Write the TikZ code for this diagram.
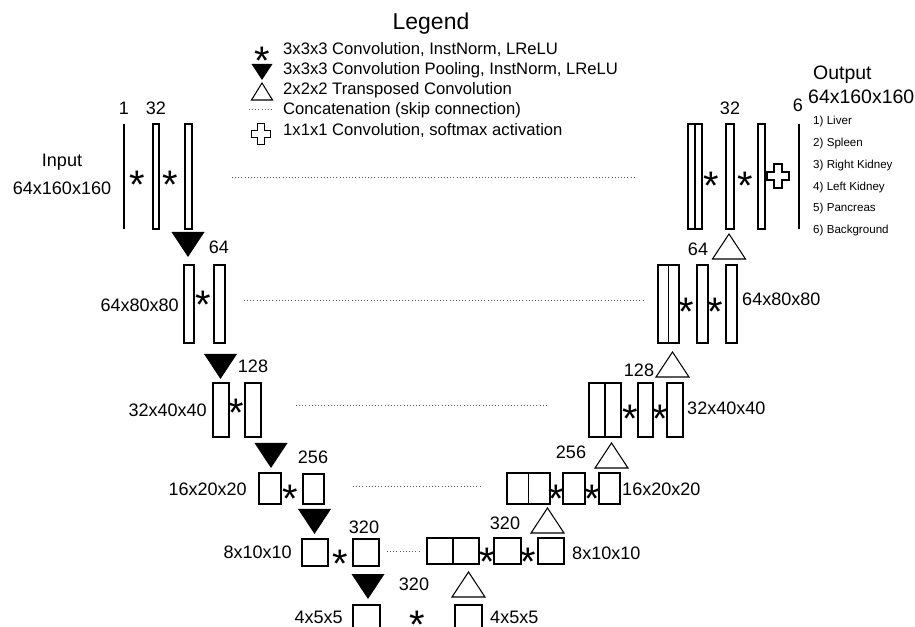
\documentclass[tikz,border=0pt]{standalone}
\usepackage{fontspec}
\setmainfont{Liberation Sans}
\usetikzlibrary{positioning,calc}

\newcommand{\convstar}{\smash{\raisebox{-0.57em}{*}}}

\tikzset{
    blk/.style 2 args={draw, line width=0.9pt, inner sep=0pt, outer sep=0pt,
        minimum width=#1*0.03cm, minimum height=#2*0.03cm},
    crossbox/.pic={
        \draw[line width=0.9pt] (-4,-12) -- (4,-12) -- (4,-4) -- (11,-4) -- (11,4) -- (4,4)
            -- (4,12) -- (-4,12) -- (-4,4) -- (-11,4) -- (-11,-4) -- (-4,-4) -- cycle;
    }
}

\begin{document}
\begin{tikzpicture}[
    x=0.03cm, y=-0.03cm,
    lbl/.style={font=\fontsize{15.4}{18}\selectfont, inner sep=0pt},
    leg/.style={font=\fontsize{14.2}{16}\selectfont, inner sep=0pt, anchor=west},
    organ/.style={font=\fontsize{9.9}{12}\selectfont, inner sep=0pt, anchor=west},
    conv/.style={font=\fontsize{34}{34}\selectfont, inner sep=0pt, text height=5pt, text depth=5pt},
    skip/.style={dotted, gray!70!black, line width=0.7pt},
    bar/.style={line width=2pt}
]
    \useasboundingbox (0,0) rectangle (915,627);
    \clip (0,0) rectangle (915,627);

    % Legend
    \node[font=\fontsize{19.6}{22}\selectfont, inner sep=0pt] (legtitle) at (431,24) {Legend};
    \node[conv] (legconv) at (262,52) {\convstar};
    \fill (251.5,64) -- (272.5,64) -- (262,80) -- cycle;
    \draw[line width=0.9pt] (251.5,100) -- (272.5,100) -- (262,83) -- cycle;
    \draw[skip] (249,109) coordinate (legskipa) -- (273,109) coordinate (legskipb);
    \pic[scale=0.9] at (261,134) {crossbox};
    \node[leg] (leg1) at (283,50) {3x3x3 Convolution, InstNorm, LReLU};
    \node[leg] (leg2) at (283,70) {3x3x3 Convolution Pooling, InstNorm, LReLU};
    \node[leg] (leg3) at (283,90) {2x2x2 Transposed Convolution};
    \node[leg] (leg4) at (283,110) {Concatenation (skip connection)};
    \node[leg] (leg5) at (283,131) {1x1x1 Convolution, softmax activation};

    % Encoder
    \draw[bar] (124,124) coordinate (intop) -- (124,229) coordinate (inbot);
    \foreach \n/\x/\y/\w/\h in {enc0a/156/176.5/6/105, enc0b/188.5/176.5/7/105,
        enc1a/189/304/10/78, enc1b/219.5/304/11/78,
        enc2a/221/410/16/54, enc2b/253/410/16/54,
        enc3a/270/488.5/22/31, enc3b/313.5/489/21/30,
        enc4a/315/552.5/26/27, enc4b/366/552.5/26/27,
        bot5a/366.5/619/27/28, bot5b/468.5/619/27/28}
        \node[blk={\w}{\h}] (\n) at (\x,\y) {};

    % Decoder
    \foreach \n/\x/\y/\w/\h in {dec0c/695/176.5/14/105, dec0a/730/176.5/8/105, dec0b/761.5/176.5/7/105,
        dec1c/668.5/304/21/78, dec1a/702.5/304/11/78, dec1b/731.5/304/11/78,
        dec2c/605/410/32/54, dec2a/645.5/410/15/54, dec2b/675/410/16/54,
        dec3c/528.5/488.5/43/31, dec3a/574/488.5/22/31, dec3b/609.5/488.5/21/31,
        dec4c/453/551/52/26, dec4a/507.5/551/27/26, dec4b/551/551/26/26}
        \node[blk={\w}{\h}] (\n) at (\x,\y) {};
    \foreach \i in {0,...,4}
        \draw[line width=0.9pt] (dec\i c.north) -- (dec\i c.south);
    \draw[bar] (799,124) coordinate (outtop) -- (799,229) coordinate (outbot);
    \pic at (778,176) {crossbox};

    % Pooling and up-convolution
    \foreach \x/\y in {188/232, 220.5/354, 271/443, 314.5/509, 368/574}
        \fill (\x-16.5,\y) -- ++(33,0) -- ++(-16.5,25) -- cycle;
    \foreach \x/\y in {729/259, 672.5/377, 611.5/468, 547.5/533, 468.5/597}
        \draw[line width=0.9pt] (\x-16.5,\y) -- ++(33,0) -- ++(-16.5,-25) -- cycle;

    % Convolutions
    \foreach \x/\y in {137/176, 170/176, 203/296, 236/404, 290/490, 340/555, 417/616,
        711/177, 745/177, 686/303, 715/303, 630/410, 660/410, 556/490, 592/490, 487/553, 528/553}
        \node[conv] at (\x,\y) {\convstar};

    % Skip connections
    \foreach \i/\a/\b/\y in {0/232/634/177, 1/244/645/300, 2/296/549/405, 3/353/482/486, 4/387/420/551}
        \draw[skip] (\a,\y) coordinate (skip\i l) -- (\b,\y) coordinate (skip\i r);

    % Labels
    \node[lbl] (ch1) at (124,108) {1};
    \node[lbl] (ch32) at (156,108) {32};
    \node[lbl] (inname) at (62,162) {Input};
    \node[lbl] (insize) at (62,188) {64x160x160};
    \node[lbl] (ch64) at (219,247) {64};
    \node[lbl] (ch128) at (253,366) {128};
    \node[lbl] (ch256) at (313,457) {256};
    \node[lbl] (ch320) at (364,527) {320};
    \node[lbl] (ch320b) at (414,584) {320};
    \node[lbl, left=0.15cm of enc1a, yshift=-0.8pt] (sz1) {64x80x80};
    \node[lbl, left=0.18cm of enc2a] (sz2) {32x40x40};
    \node[lbl, left=0.36cm of enc3a, yshift=-1pt] (sz3) {16x20x20};
    \node[lbl, left=0.3cm of enc4a] (sz4) {8x10x10};
    \node[lbl, left=0.3cm of bot5a, yshift=1.2pt] (sz5) {4x5x5};

    \node[lbl] (och32) at (730,108) {32};
    \node[lbl] (och6) at (798,105) {6};
    \node[lbl, font=\fontsize{16.6}{19}\selectfont, anchor=west] (outname) at (813,75) {Output};
    \node[lbl, font=\fontsize{16.6}{19}\selectfont, anchor=west] (outsize) at (808,97) {64x160x160};
    \node[lbl] (och64) at (698,249) {64};
    \node[lbl] (och128) at (639,370) {128};
    \node[lbl] (och256) at (571,452) {256};
    \node[lbl] (och320) at (505,523) {320};
    \node[lbl, right=0.15cm of dec1b, yshift=4.3pt] (osz1) {64x80x80};
    \node[lbl, right=0.12cm of dec2b, yshift=1.7pt] (osz2) {32x40x40};
    \node[lbl, right=0.06cm of dec3b, yshift=-1pt] (osz3) {16x20x20};
    \node[lbl, right=0.24cm of dec4b, yshift=-1.7pt] (osz4) {8x10x10};
    \node[lbl, right=0.24cm of bot5b, yshift=1.2pt] (osz5) {4x5x5};

    \foreach \t [count=\k] in {1) Liver, 2) Spleen, 3) Right Kidney, 4) Left Kidney, 5) Pancreas, 6) Background}
        \node[organ] (organ\k) at (813,100+21.8*\k) {\t};
\end{tikzpicture}
\end{document}
